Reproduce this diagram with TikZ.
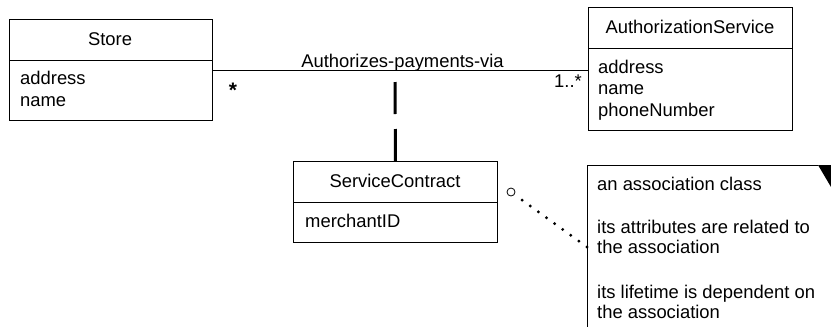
\documentclass[tikz,border=0pt]{standalone}
\usepackage{fontspec}
\setmainfont{Liberation Sans}
\begin{document}
\begin{tikzpicture}[x=1pt,y=-1pt,
  every node/.style={font=\fontsize{18.4}{21}\selectfont, inner sep=0pt},
  classbox/.style={draw, line width=0.9pt, anchor=north west},
  divline/.style={line width=0.9pt},
  lbl/.style={anchor=base west},
  ttl/.style={anchor=base}]
\useasboundingbox (0,0) rectangle (831,327);
% Store
\node[classbox, minimum width=203pt, minimum height=101pt] (store) at (9,19) {};
\draw[divline] (store.west |- 0,60) -- (store.east |- 0,60);
\node[ttl] (storeT) at (110,45.5) {Store};
\node[lbl] (storeA1) at (20,84) {address};
\node[lbl] (storeA2) at (20,106) {name};
% AuthorizationService
\node[classbox, minimum width=204pt, minimum height=123pt] (auth) at (588,7) {};
\draw[divline] (auth.west |- 0,48) -- (auth.east |- 0,48);
\node[ttl] (authT) at (690,33) {AuthorizationService};
\node[lbl] (authA1) at (598,73) {address};
\node[lbl] (authA2) at (598,94.5) {name};
\node[lbl] (authA3) at (598,116) {phoneNumber};
% ServiceContract
\node[classbox, minimum width=204pt, minimum height=81pt] (sc) at (293,161) {};
\draw[divline] (sc.west |- 0,202) -- (sc.east |- 0,202);
\node[ttl] (scT) at (395,187) {ServiceContract};
\node[lbl] (scA1) at (305,227) {merchantID};
% association
\coordinate (mid) at (395,70);
\draw[line width=0.9pt] (store.east |- mid) -- (auth.west |- mid);
\node[ttl] (assocname) at (402.5,67) {Authorizes-payments-via};
\node[anchor=base] (m1) at (233,97.5) {\fontsize{21}{21}\selectfont\bfseries *};
\node[anchor=base east] (m2) at (582,87) {1..*};
% association class dashed link
\draw[line width=3pt, dash pattern=on 32pt off 15pt] (sc.north) -- (mid);
% note
\coordinate (noteTL) at (587,165);
\coordinate (noteBL) at (587,327);
\coordinate (noteTR) at (818,165);
\draw[line width=0.9pt] (noteBL) -- (noteTL) -- (noteTR);
\fill (noteTR) -- (831,165) -- (831,187) -- cycle;
\node[lbl] (n1) at (597,190.5) {an association class};
\node[lbl] (n2) at (597,233) {its attributes are related to};
\node[lbl] (n3) at (597,253) {the association};
\node[lbl] (n4) at (597,298) {its lifetime is dependent on};
\node[lbl] (n5) at (597,318) {the association};
% anchor circle and dotted line
\node[circle, draw, line width=0.8pt, minimum size=8pt] (circ) at (511,192) {};
\coordinate (noteEnd) at (587,247);
\draw[line width=3.2pt, line cap=round, dash pattern=on 0pt off 10pt] (noteEnd) -- (circ);
\end{tikzpicture}
\end{document}
